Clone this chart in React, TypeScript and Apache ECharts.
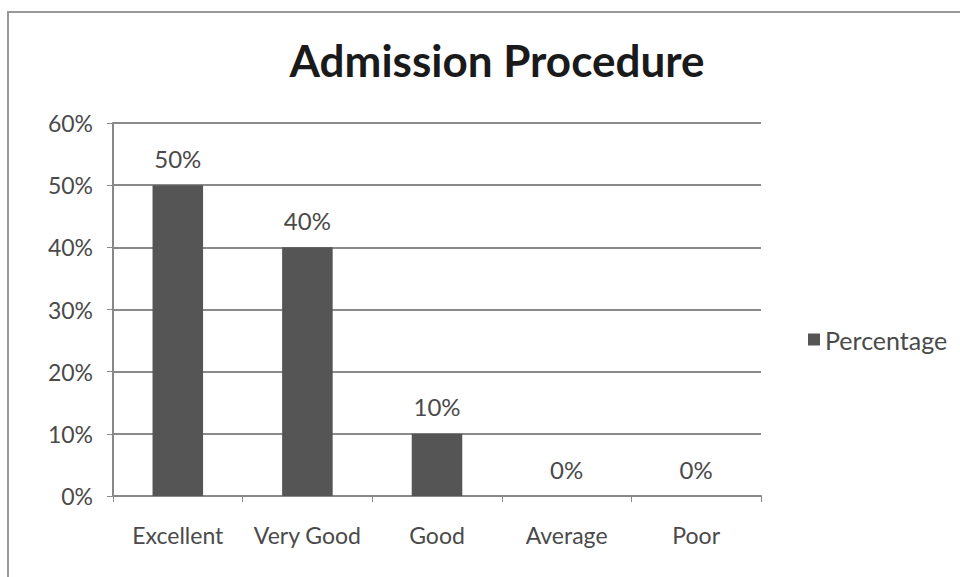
import React, { useEffect, useRef } from "react";
import * as echarts from "echarts";

const categories = ["Excellent", "Very Good", "Good", "Average", "Poor"];
const percentages = [50, 40, 10, 0, 0];
const yTicks = [0, 10, 20, 30, 40, 50, 60];
const seriesName = "Percentage";
const titleText = "Admission Procedure";

const FONT = "Lato, 'Open Sans', sans-serif";

export default function App() {
  const ref = useRef<HTMLDivElement>(null);
  useEffect(() => {
    if (!ref.current) return;
    const chart = echarts.init(ref.current, null, { renderer: "svg" });
    chart.setOption({
      animation: false,
      backgroundColor: "#ffffff",
      title: {
        text: titleText,
        left: 492,
        textAlign: "center",
        top: 33,
        textStyle: { fontFamily: FONT, fontWeight: "bold", fontSize: 44, color: "#1a1a1a" },
      },
      legend: {
        data: [seriesName],
        left: 803,
        top: 322,
        icon: "rect",
        itemWidth: 12,
        itemHeight: 12,
        itemGap: 5,
        textStyle: { fontFamily: FONT, fontSize: 25, color: "#4a4a4a" },
      },
      grid: { left: 113, top: 123, width: 648, height: 373, containLabel: false },
      xAxis: {
        type: "category",
        data: categories,
        axisLine: { show: true, lineStyle: { color: "#888", width: 2 } },
        axisTick: { show: true, alignWithLabel: false, length: 6, lineStyle: { color: "#888" } },
        axisLabel: { interval: 0, hideOverlap: false, fontFamily: FONT, fontSize: 23, color: "#4a4a4a", margin: 27 },
      },
      yAxis: {
        type: "value",
        min: yTicks[0],
        max: yTicks[yTicks.length - 1],
        interval: 10,
        axisLine: { show: true, lineStyle: { color: "#888", width: 2 } },
        axisTick: { show: true, length: 6, lineStyle: { color: "#888" } },
        axisLabel: { fontFamily: FONT, fontSize: 23, color: "#4a4a4a", margin: 20, formatter: "{value}%" },
        splitLine: { show: true, lineStyle: { color: "#8a8a8a", width: 2 } },
      },
      series: [
        {
          name: seriesName,
          type: "bar",
          data: percentages,
          barWidth: "39%",
          itemStyle: { color: "#555555" },
          label: {
            show: true,
            position: "top",
            distance: 15,
            formatter: "{c}%",
            fontFamily: FONT,
            fontSize: 24,
            color: "#4a4a4a",
          },
        },
      ],
      graphic: [
        {
          type: "rect",
          shape: { x: 8, y: 12, width: 960, height: 570 },
          style: { fill: "none", stroke: "#999", lineWidth: 2 },
          silent: true,
        },
      ],
    });
    return () => chart.dispose();
  }, []);
  return <div ref={ref} style={{ width: 960, height: 577, position: "absolute", left: 0, top: 0 }} />;
}
